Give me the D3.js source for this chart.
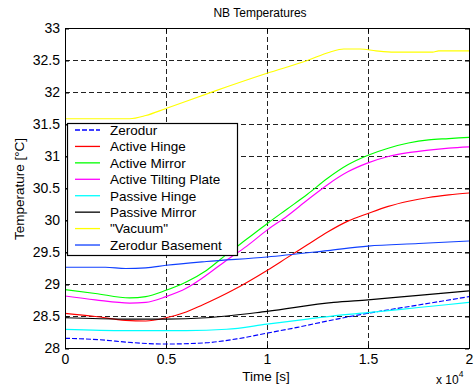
<!DOCTYPE html>
<html><head><meta charset="utf-8">
<script src="https://cdn.jsdelivr.net/npm/d3@7"></script>
<style>body{margin:0;background:#fff;} svg{display:block;font-family:"Liberation Sans",Arial,sans-serif;}</style>
</head><body>
<svg id="c" width="474" height="387"></svg>
<script>
// time in units of 1e4 s
const zerodurT = [0,0.2,0.3,0.5,0.7,0.85,1.0,1.15,1.33,1.5,1.75,2.0];
const zerodurV = [28.16,28.13,28.10,28.07,28.09,28.15,28.24,28.33,28.45,28.55,28.68,28.81];
const activeHingeT = [0,0.15,0.3,0.4,0.5,0.6,0.68,0.83,1.0,1.1,1.2,1.3,1.4,1.5,1.6,1.7,1.8,1.9,2.0];
const activeHingeV = [28.55,28.50,28.44,28.43,28.48,28.57,28.68,28.91,29.22,29.42,29.62,29.82,29.99,30.11,30.22,30.30,30.36,30.40,30.43];
const activeMirrorT = [0,0.15,0.32,0.4,0.5,0.6,0.7,0.8,0.9,1.0,1.1,1.2,1.3,1.4,1.5,1.6,1.7,1.8,1.9,2.0];
const activeMirrorV = [28.92,28.86,28.79,28.81,28.91,29.04,29.22,29.47,29.71,29.95,30.18,30.41,30.66,30.87,31.02,31.13,31.21,31.26,31.28,31.30];
const tiltingT = [0,0.15,0.32,0.4,0.5,0.6,0.68,0.8,0.9,1.0,1.1,1.2,1.3,1.4,1.5,1.6,1.7,1.8,1.9,2.0];
const tiltingV = [28.82,28.76,28.71,28.72,28.81,28.94,29.10,29.38,29.60,29.85,30.07,30.32,30.56,30.76,30.90,31.00,31.06,31.10,31.13,31.15];
const passiveHingeT = [0,0.3,0.6,0.8,1.0,1.2,1.33,1.5,1.75,2.0];
const passiveHingeV = [28.30,28.28,28.28,28.30,28.38,28.46,28.51,28.56,28.64,28.72];
const passiveMirrorT = [0,0.3,0.5,0.7,1.0,1.33,1.5,1.75,2.0];
const passiveMirrorV = [28.48,28.46,28.46,28.48,28.58,28.72,28.76,28.83,28.90];
const vacuumT = [0,0.2,0.32,0.4,0.5,0.73,1.0,1.2,1.31,1.38,1.46,1.54,1.63,1.82,1.85,2.0];
const vacuumV = [31.59,31.59,31.59,31.64,31.75,32.01,32.30,32.50,32.63,32.68,32.68,32.65,32.63,32.63,32.65,32.65];
const basementT = [0,0.2,0.3,0.4,0.5,0.7,1.0,1.3,1.5,1.75,2.0];
const basementV = [29.27,29.27,29.25,29.26,29.30,29.36,29.43,29.53,29.60,29.64,29.68];

const seriesNames = ["Zerodur","Active Hinge","Active Mirror","Active Tilting Plate","Passive Hinge","Passive Mirror","\"Vacuum\"","Zerodur Basement"];
const xTicks = [0,0.5,1,1.5,2];
const xTickLabels = ["0","0.5","1","1.5","2"];
const yTicks = [28,28.5,29,29.5,30,30.5,31,31.5,32,32.5,33];
const yTickLabels = ["28","28.5","29","29.5","30","30.5","31","31.5","32","32.5","33"];

const series = [
  {name:seriesNames[0], t:zerodurT, v:zerodurV, color:"#0000ff", dash:"5,2"},
  {name:seriesNames[1], t:activeHingeT, v:activeHingeV, color:"#ff0000"},
  {name:seriesNames[2], t:activeMirrorT, v:activeMirrorV, color:"#00ff00"},
  {name:seriesNames[3], t:tiltingT, v:tiltingV, color:"#ff00ff"},
  {name:seriesNames[4], t:passiveHingeT, v:passiveHingeV, color:"#00ffff"},
  {name:seriesNames[5], t:passiveMirrorT, v:passiveMirrorV, color:"#000000"},
  {name:seriesNames[6], t:vacuumT, v:vacuumV, color:"#ffff00"},
  {name:seriesNames[7], t:basementT, v:basementV, color:"#1040ff"}
];

const svg = d3.select("#c");
const L=65, R=469, T=28.5, B=348.5;
const x = d3.scaleLinear().domain([0,2]).range([L,R]);
const y = d3.scaleLinear().domain([28,33]).range([B,T]);

svg.append("defs").append("clipPath").attr("id","clip").append("rect")
  .attr("x",L).attr("y",T).attr("width",R-L).attr("height",B-T);

// grid
const g = svg.append("g");
g.selectAll(".gx").data(xTicks.slice(1,-1)).join("line")
  .attr("x1",d=>x(d)).attr("x2",d=>x(d)).attr("y1",T).attr("y2",B)
  .attr("stroke","#222").attr("stroke-dasharray","5,3").attr("stroke-width",1).attr("shape-rendering","crispEdges");
g.selectAll(".gy").data(yTicks.slice(1,-1)).join("line")
  .attr("y1",d=>y(d)).attr("y2",d=>y(d)).attr("x1",L).attr("x2",R)
  .attr("stroke","#222").attr("stroke-dasharray","5,3").attr("stroke-width",1).attr("shape-rendering","crispEdges");

// lines
const line = d3.line().x(d=>x(d[0])).y(d=>y(d[1])).curve(d3.curveMonotoneX);
const lg = svg.append("g").attr("clip-path","url(#clip)");
series.forEach(s=>{
  lg.append("path").attr("d",line(s.t.map((t,i)=>[t,s.v[i]])))
    .attr("fill","none").attr("stroke",s.color).attr("stroke-width",1.15)
    .attr("stroke-dasharray",s.dash||null);
});

// axes box and ticks
const ax = svg.append("g");
ax.append("rect").attr("x",L).attr("y",T).attr("width",R-L).attr("height",B-T)
  .attr("fill","none").attr("stroke","#000").attr("stroke-width",1).attr("shape-rendering","crispEdges");
const xb = d3.axisBottom(x).tickValues(xTicks).tickFormat((d,i)=>xTickLabels[i]).tickSizeInner(-4).tickSizeOuter(0).tickPadding(6);
const xt = d3.axisTop(x).tickValues(xTicks).tickFormat("").tickSizeInner(-4).tickSizeOuter(0);
const yl = d3.axisLeft(y).tickValues(yTicks).tickFormat((d,i)=>yTickLabels[i]).tickSizeInner(-4).tickSizeOuter(0).tickPadding(5);
const yr = d3.axisRight(y).tickValues(yTicks).tickFormat("").tickSizeInner(-4).tickSizeOuter(0);
[[xb,`translate(0,${B})`],[xt,`translate(0,${T})`],[yl,`translate(${L},0)`],[yr,`translate(${R},0)`]].forEach(([a,tr])=>{
  const gg = ax.append("g").attr("transform",tr).call(a);
  gg.select(".domain").remove();
  gg.selectAll("text").attr("font-size","14px").attr("fill","#000").attr("font-family","Liberation Sans, Arial, sans-serif");
  gg.selectAll("line").attr("stroke","#000");
});

// labels
svg.append("text").attr("x",260).attr("y",17).attr("text-anchor","middle").attr("font-size","12px").text("NB Temperatures");
svg.append("text").attr("x",266).attr("y",381).attr("text-anchor","middle").attr("font-size","13.5px").text("Time [s]");
svg.append("text").attr("transform","translate(24,189) rotate(-90)").attr("text-anchor","middle").attr("font-size","13.5px").text("Temperature [°C]");
const xe = svg.append("text").attr("x",436).attr("y",384).attr("font-size","12px");
xe.append("tspan").text("x 10");
xe.append("tspan").attr("dy",-7).attr("font-size","8.5px").text("4");

// legend
const leg = svg.append("g");
leg.append("rect").attr("x",67.5).attr("y",123.5).attr("width",170).attr("height",132)
  .attr("fill","#fff").attr("stroke","#000").attr("stroke-width",1.2);
series.forEach((s,i)=>{
  const yy = 130 + i*16.43;
  leg.append("line").attr("x1",75).attr("x2",100).attr("y1",yy).attr("y2",yy)
    .attr("stroke",s.color).attr("stroke-width",1.3).attr("stroke-dasharray",s.dash||null);
  leg.append("text").attr("x",110).attr("y",yy).attr("dy","0.36em").attr("font-size","13.5px").text(s.name);
});
</script>
</body></html>
